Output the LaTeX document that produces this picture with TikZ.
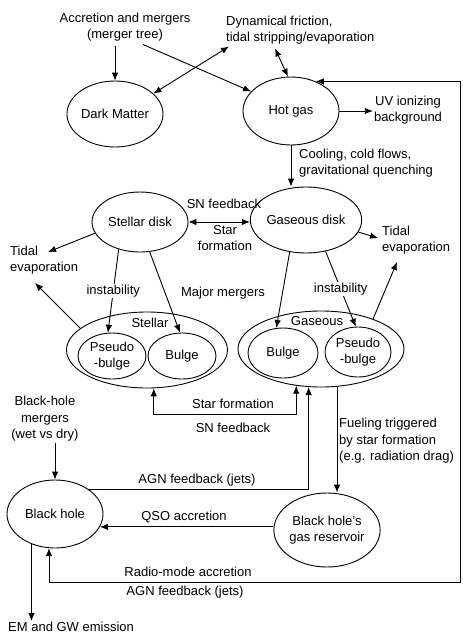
\documentclass[tikz,border=0pt]{standalone}
\usepackage{fontspec}
\setmainfont{Liberation Sans}
\usetikzlibrary{shapes.geometric,arrows.meta,calc}
\begin{document}
\begin{tikzpicture}[x=1pt,y=-1pt,
  every node/.style={font=\fontsize{13}{16.5}\selectfont, inner sep=1pt},
  ell/.style={draw, ellipse, inner sep=0pt, line width=0.9pt, align=center},
  txt/.style={align=center},
  ltxt/.style={align=left, anchor=west},
  arr/.style={line width=0.9pt, -{Latex[length=8pt,width=6.5pt]}},
  darr/.style={line width=0.9pt, {Latex[length=8pt,width=6.5pt]}-{Latex[length=8pt,width=6.5pt]}},
  gap/.style={fill=white, inner sep=1pt}]
\useasboundingbox (0,0) rectangle (463,643);
% ellipses
\node[ell, minimum width=96pt, minimum height=66pt] (dm) at (115,114) {Dark Matter};
\node[ell, minimum width=96pt, minimum height=68pt] (hot) at (291,111) {Hot gas};
\node[ell, minimum width=96pt, minimum height=60pt] (sd) at (140,222) {Stellar disk};
\node[ell, minimum width=96pt, minimum height=66pt] (gd) at (306,220) {Gaseous disk};
\node[ell, minimum width=161pt, minimum height=76pt] (sb) at (147,350) {};
\node[ell, minimum width=68pt, minimum height=46pt] (spb) at (112,356) {Pseudo\\-bulge};
\node[ell, minimum width=68pt, minimum height=46pt] (sbu) at (182,356) {Bulge};
\node[ell, minimum width=166pt, minimum height=76pt] (gb) at (321,349) {};
\node[ell, minimum width=70pt, minimum height=50pt] (gbu) at (283,353) {Bulge};
\node[ell, minimum width=66pt, minimum height=50pt] (gpb) at (358,352) {Pseudo\\-bulge};
\node[ell, minimum width=96pt, minimum height=68pt] (bh) at (55,514) {Black hole};
\node[ell, minimum width=100pt, minimum height=74pt] (res) at (327,530) {Black hole's\\gas reservoir};
% texts
\node[txt] (acc) at (125,27) {Accretion and mergers\\(merger tree)};
\node[ltxt] (dyn) at (225,30) {Dynamical friction,\\tidal stripping/evaporation};
\node[txt] (uv) at (408,110) {UV ionizing\\background};
\node[ltxt] (cool) at (298,163) {Cooling, cold flows,\\gravitational quenching};
\node[txt] (snf) at (224,204) {SN feedback};
\node[txt] (sf) at (225,238) {Star\\formation};
\node[ltxt] (tidL) at (9,260) {Tidal\\evaporation};
\node[ltxt] (tidR) at (381,240) {Tidal\\evaporation};
\node[txt] (mm) at (223,293) {Major mergers};
\node[txt] (stl) at (150,323) {Stellar};
\node[txt] (gsl) at (317,321) {Gaseous};
\node[txt] (sf2) at (233,404) {Star formation};
\node[txt] (snf2) at (233,428) {SN feedback};
\node[txt] (bhm) at (45,419) {Black-hole\\mergers\\(wet vs dry)};
\node[ltxt] (fuel) at (338,441) {Fueling triggered\\by star formation\\(e.g. radiation drag)};
\node[txt] (agn1) at (197,480) {AGN feedback (jets)};
\node[txt] (qso) at (184,517) {QSO accretion};
\node[txt] (radio) at (188,572) {Radio-mode accretion};
\node[txt] (agn2) at (185,592) {AGN feedback (jets)};
\node[ltxt] (em) at (7,627) {EM and GW emission};
\coordinate (rc) at (460,582);
\coordinate (sfy) at (0,414);
% connectors
\draw[arr] ($(dm.north |- acc.south)+(0,3)$) -- (dm.north);
\draw[arr] ($(acc.south)+(18,2)$) -- (hot.154);
\draw[darr] ($(dyn.south west)+(4,1)$) -- (dm.28);
\draw[darr] ($(dyn.south west)+(50,3)$) -- (hot.95);
\draw[darr] (hot.50) -| (rc) -| (bh.260);
\draw[arr] (hot.east) -- (hot.east -| uv.west);
\draw[arr] (hot.south) -- (hot.south |- gd.north);
\draw[darr] (sd.east) -- (sd.east -| gd.west);
\draw[arr] (sd.194) -- ($(tidL.west)+(39,-8)$);
\draw[arr] (sb.162) -- ($(tidL.west)+(26,23)$);
\draw[arr] (sd.232) -- node[gap]{instability} (spb.100);
\draw[arr] (sd.288) -- (sbu.95);
\draw[arr] (gd.243) -- (gbu.105);
\draw[arr] (gd.302) -- node[gap]{instability} (gpb.95);
\draw[arr] (gd.347) -- ($(tidR.west)+(-3,-2)$);
\draw[arr] (gb.30) -- ($(tidR.west)+(16,22)$);
\draw[darr] (sb.280) -- (sb.280 |- sfy) -| (gb.236);
\draw[arr] (bh.37) -| (gb.252);
\draw[arr] (gb.293) -- (gb.293 |- res.north);
\draw[arr] (bh.-16 -| res.west) -- (bh.-16);
\draw[arr] (bh.north |- bhm.south) -- (bh.north);
\draw[arr] (bh.232) -- (bh.232 |- em.north);
\end{tikzpicture}
\end{document}
